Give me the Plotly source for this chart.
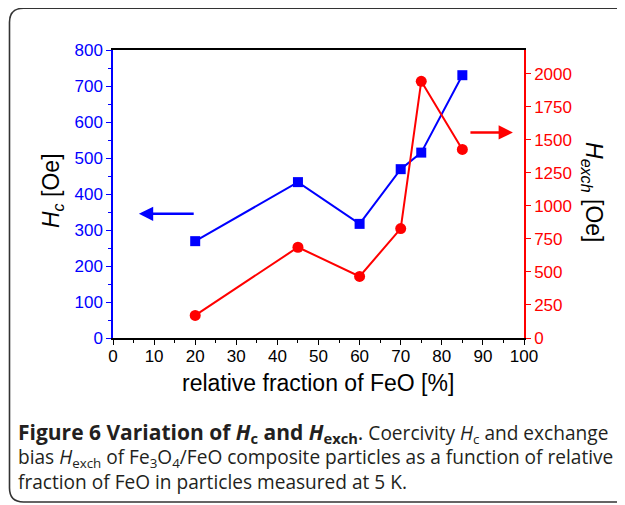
import plotly.graph_objects as go

# Data
feo_fraction = [20, 45, 60, 70, 75, 85]
hc_values = [269, 433, 317, 469, 515, 730]
hexch_values = [171, 687, 466, 828, 1943, 1427]

x_ticks = list(range(0, 101, 10))
hc_ticks = list(range(0, 801, 100))
hexch_ticks = list(range(0, 2001, 250))

OFF = 8  # page body margin
W, H = 625 - OFF, 505 - OFF
L, R, T, B = 113 - OFF, 101, 50 - OFF, 167
PW, PH = W - L - R, H - T - B


def px(x):
    """screen pixel x -> paper x"""
    return (x - OFF - L) / PW


def py(y):
    """screen pixel y -> paper y"""
    return (H - B - (y - OFF)) / PH


fig = go.Figure()
fig.add_trace(go.Scatter(
    x=feo_fraction, y=hc_values, mode="lines+markers",
    line=dict(color="#0000ff", width=2),
    marker=dict(symbol="square", size=10, color="#0000ff"),
    yaxis="y", showlegend=False))
fig.add_trace(go.Scatter(
    x=feo_fraction, y=hexch_values, mode="lines+markers",
    line=dict(color="#ff0000", width=2),
    marker=dict(symbol="circle", size=11, color="#ff0000"),
    yaxis="y2", showlegend=False))

tickfont = dict(family="Liberation Sans, Arial, sans-serif", size=17)

fig.update_layout(
    width=W, height=H,
    margin=dict(l=L, r=R, t=T, b=B),
    paper_bgcolor="white", plot_bgcolor="white",
    xaxis=dict(range=[0, 100], tickvals=x_ticks, ticks="outside", ticklen=5,
               tickwidth=1.2, tickcolor="black", showline=True, linecolor="black",
               linewidth=1.5, mirror=True, showgrid=False, zeroline=False,
               ticklabelstandoff=-3,
               tickfont=dict(color="black", **tickfont),
               minor=dict(dtick=5, ticks="outside", ticklen=3, tickcolor="black")),
    yaxis=dict(range=[0, 800], tickvals=hc_ticks, ticks="outside", ticklen=5,
               tickwidth=1.2, tickcolor="#0000ff", showline=True, linecolor="#0000ff",
               linewidth=1.5, showgrid=False, zeroline=False,
               tickfont=dict(color="#0000ff", **tickfont),
               minor=dict(dtick=50, ticks="outside", ticklen=3, tickcolor="#0000ff")),
    yaxis2=dict(range=[0, 2180], tickvals=hexch_ticks, overlaying="y", side="right",
                ticks="outside", ticklen=5, tickwidth=1.2, tickcolor="#ff0000",
                showline=True, linecolor="#ff0000", linewidth=1.5, showgrid=False,
                zeroline=False, tickfont=dict(color="#ff0000", **tickfont)),
)

# Rounded border frame
x0, y0, x1, y1, r = px(9.5), py(8.3), px(660), py(502), 14
rx, ry = r / PW, r / PH
path = (f"M {x1},{y0} L {x0+rx},{y0} Q {x0},{y0} {x0},{y0-ry} "
        f"L {x0},{y1+ry} Q {x0},{y1} {x0+rx},{y1} L {x1},{y1}")
fig.add_shape(type="path", path=path, xref="paper", yref="paper",
              line=dict(color="#333333", width=1.6), layer="below")

titlefont = dict(family="Liberation Sans, Arial, sans-serif", size=23, color="black")
fig.add_annotation(text="relative fraction of FeO [%]", xref="paper", yref="paper",
                   x=px(318), y=py(383), xanchor="center", yanchor="middle",
                   showarrow=False, font=titlefont)
fig.add_annotation(text="<i>H</i><sub><i>c</i></sub> [Oe]", xref="paper", yref="paper",
                   x=px(52), y=py(190), xanchor="center", yanchor="middle",
                   showarrow=False, textangle=-90, font=titlefont)
fig.add_annotation(text="<i>H</i><sub><i>exch</i></sub> [Oe]", xref="paper", yref="paper",
                   x=px(593), y=py(192), xanchor="center", yanchor="middle",
                   showarrow=False, textangle=90, font=titlefont)

# Arrows
fig.add_annotation(x=6.3, y=345, ax=20, ay=345, xref="x", yref="y", axref="x", ayref="y",
                   text="", showarrow=True, arrowhead=2, arrowsize=1.1, arrowwidth=2.6,
                   arrowcolor="#0000ff")
fig.add_annotation(x=97.3, y=1556, ax=86.6, ay=1556, xref="x", yref="y2", axref="x",
                   ayref="y2", text="", showarrow=True, arrowhead=2, arrowsize=1.1,
                   arrowwidth=2.6, arrowcolor="#ff0000")

# Caption
capfont = dict(family="Open Sans, Noto Sans, sans-serif", size=19.1, color="#231f20")
lines = [
    "<span style='font-size:21px'><b>Figure 6 Variation of <i>H</i><sub>c</sub> and "
    "<i>H</i><sub>exch</sub></b>.</span> Coercivity <i>H</i><sub>c</sub> and exchange",
    "bias <i>H</i><sub>exch</sub> of Fe<sub>3</sub>O<sub>4</sub>/FeO composite particles "
    "as a function of relative",
    "fraction of FeO in particles measured at 5 K.",
]
for txt, yc in zip(lines, [433, 458, 482]):
    fig.add_annotation(text=txt, xref="paper", yref="paper", x=px(16), y=py(yc),
                       xanchor="left", yanchor="middle", showarrow=False, font=capfont,
                       align="left")

fig.write_html("out.html")
